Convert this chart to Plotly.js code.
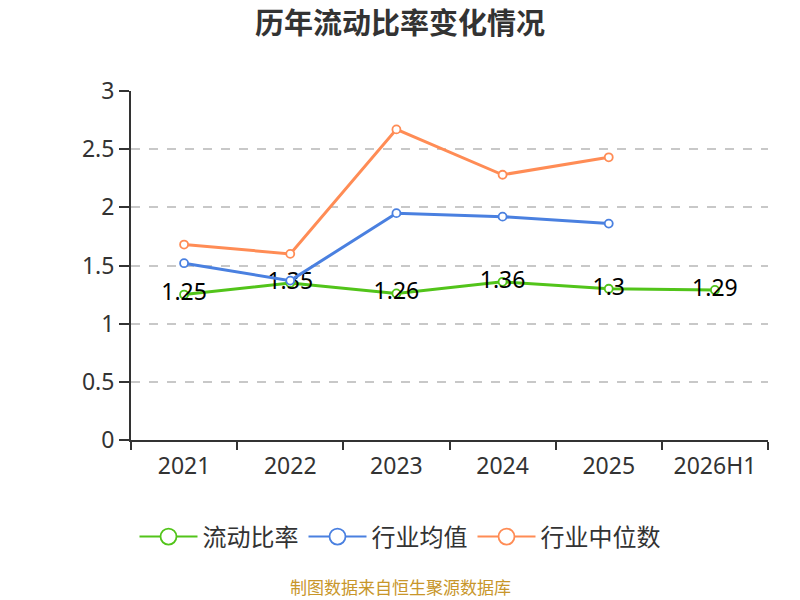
<!DOCTYPE html>
<html>
<head>
<meta charset="utf-8">
<script src="https://cdn.plot.ly/plotly-3.0.1.min.js"></script>
<style>
  body { margin: 0; padding: 0; background: #fff; }
  #chart { width: 800px; height: 600px; }
</style>
</head>
<body>
<div id="chart"></div>
<script>
const years = ["2021", "2022", "2023", "2024", "2025", "2026H1"];
const currentRatio = [1.25, 1.35, 1.26, 1.36, 1.30, 1.29];
const industryMean = [1.52, 1.37, 1.95, 1.92, 1.86];
const industryMedian = [1.68, 1.60, 2.67, 2.28, 2.43];
const yTicks = [0, 0.5, 1, 1.5, 2, 2.5, 3];

const cjk = "'Noto Sans CJK SC', 'Noto Sans', sans-serif";
const num = "'Noto Sans', 'Noto Sans CJK SC', sans-serif";

const green = "#52c41a", blue = "#4a80e0", orange = "#ff8c55";

const mk = (color, size) => ({
  color: "#fff",
  size: size,
  line: { color: color, width: 1.8 },
});

const traceRatio = {
  name: "流动比率",
  x: years,
  y: currentRatio,
  type: "scatter",
  mode: "lines+markers+text",
  text: currentRatio.map(String),
  textposition: "middle center",
  textfont: { family: num, size: 23, color: "#000" },
  line: { color: green, width: 3 },
  marker: mk(green, 8),
  cliponaxis: false,
  showlegend: false,
};

const traceMean = {
  name: "行业均值",
  x: years.slice(0, industryMean.length),
  y: industryMean,
  type: "scatter",
  mode: "lines+markers",
  line: { color: blue, width: 3 },
  marker: mk(blue, 8),
  showlegend: false,
};

const traceMedian = {
  name: "行业中位数",
  x: years.slice(0, industryMedian.length),
  y: industryMedian,
  type: "scatter",
  mode: "lines+markers",
  line: { color: orange, width: 3 },
  marker: mk(orange, 8),
  showlegend: false,
};

// legend-only entries with the larger symbol the reference uses
const legendEntry = (name, color) => ({
  name: name,
  x: [years[0]],
  y: [null],
  type: "scatter",
  mode: "lines+markers",
  line: { color: color, width: 2 },
  marker: mk(color, 16),
  hoverinfo: "skip",
});

const layout = {
  width: 800,
  height: 600,
  margin: { l: 131, r: 32, t: 91, b: 160 },
  paper_bgcolor: "#fff",
  plot_bgcolor: "#fff",
  font: { family: cjk, color: "#333" },
  title: {
    text: "<b>历年流动比率变化情况</b>",
    font: { family: cjk, size: 29, color: "#333" },
    x: 0.5,
    xanchor: "center",
    y: 1 - 24 / 600,
    yanchor: "middle",
  },
  showlegend: true,
  legend: {
    orientation: "h",
    xref: "container",
    yref: "container",
    x: 0.5,
    xanchor: "center",
    y: 1 - 537 / 600,
    yanchor: "middle",
    font: { family: cjk, size: 24, color: "#333" },
    itemwidth: 58,
    traceorder: "normal",
  },
  xaxis: {
    type: "category",
    range: [-0.5, 5.5],
    showline: true,
    linecolor: "#333",
    linewidth: 2,
    ticks: "outside",
    tickson: "boundaries",
    ticklen: 8,
    tickwidth: 2,
    tickcolor: "#333",
    ticklabelstandoff: 4,
    showgrid: false,
    tickfont: { family: num, size: 23, color: "#333" },
    fixedrange: true,
  },
  yaxis: {
    range: [0, 3],
    tickvals: yTicks,
    ticktext: yTicks.map(String),
    showline: true,
    linecolor: "#333",
    linewidth: 2,
    ticks: "outside",
    ticklen: 10,
    tickwidth: 2,
    tickcolor: "#333",
    showgrid: true,
    gridcolor: "#c8c8c8",
    griddash: "dash",
    gridwidth: 1.5,
    zeroline: false,
    tickfont: { family: num, size: 23, color: "#333" },
    fixedrange: true,
  },
  annotations: [
    {
      text: "制图数据来自恒生聚源数据库",
      xref: "paper",
      yref: "paper",
      x: (400 - 131) / 637,
      y: (440 - 586) / 349,
      xanchor: "center",
      yanchor: "middle",
      showarrow: false,
      font: { family: cjk, size: 17, color: "#c8962a" },
    },
  ],
};

const data = [
  traceRatio, traceMean, traceMedian,
  legendEntry("流动比率", green),
  legendEntry("行业均值", blue),
  legendEntry("行业中位数", orange),
];

Plotly.newPlot("chart", data, layout, { displayModeBar: false, responsive: false });
</script>
</body>
</html>
